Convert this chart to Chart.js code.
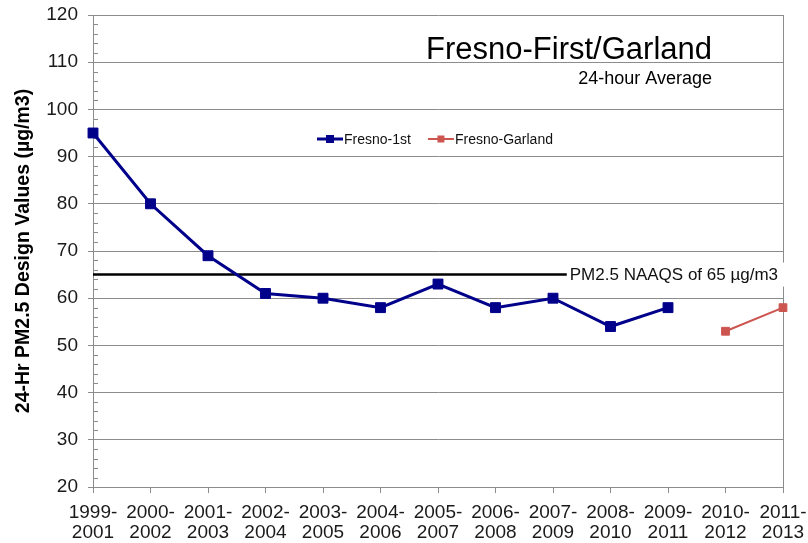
<!DOCTYPE html>
<html>
<head>
<meta charset="utf-8">
<script src="https://cdn.jsdelivr.net/npm/chart.js@4"></script>
<style>
  html, body { margin: 0; padding: 0; background: #fff; }
  #wrap { width: 808px; height: 543px; position: relative; }
</style>
</head>
<body>
<div id="wrap"><canvas id="pmChart"></canvas></div>
<script>
// design value periods (x axis)
const periodLabels = [
    ['1999-', '2001'], ['2000-', '2002'], ['2001-', '2003'], ['2002-', '2004'],
    ['2003-', '2005'], ['2004-', '2006'], ['2005-', '2007'], ['2006-', '2008'],
    ['2007-', '2009'], ['2008-', '2010'], ['2009-', '2011'], ['2010-', '2012'],
    ['2011-', '2013']
];
const fresnoFirst   = [95, 80, 69, 61, 60, 58, 63, 58, 60, 54, 58, null, null];
const fresnoGarland = [null, null, null, null, null, null, null, null, null, null, null, 53, 58];
const naaqsValue = 65;
const naaqsLabel = 'PM2.5 NAAQS of 65 µg/m3';
const chartTitle = 'Fresno-First/Garland';
const chartSubtitle = '24-hour Average';
const yAxisTitle = '24-Hr PM2.5 Design Values (µg/m3)';

const FONT = '"Liberation Sans", Arial, sans-serif';
const GRID = '#8c8c8c';
const BLUE = '#00008b';
const RED = '#cd5550';

// 罫線・凡例・タイトルなどの装飾
const decorPlugin = {
    id: 'decor',
    beforeDatasetsDraw(chart) {
        const { ctx, chartArea: a, scales: { y } } = chart;
        ctx.save();
        // minor ticks (inside)
        ctx.strokeStyle = GRID;
        ctx.lineWidth = 1;
        for (let v = 20; v <= 120; v += 2) {
            if (v % 10 === 0) continue;
            const py = Math.round(y.getPixelForValue(v)) + 0.5;
            ctx.beginPath();
            ctx.moveTo(a.left, py);
            ctx.lineTo(a.left + 5, py);
            ctx.stroke();
        }
        // right border
        ctx.beginPath();
        ctx.moveTo(Math.round(a.right) + 0.5, a.top);
        ctx.lineTo(Math.round(a.right) + 0.5, a.bottom);
        ctx.stroke();

        // NAAQS line + label
        ctx.font = '17px ' + FONT;
        const tw = ctx.measureText(naaqsLabel).width;
        const textRight = a.right - 5;
        const textLeft = textRight - tw;
        const ny = y.getPixelForValue(naaqsValue);
        ctx.fillStyle = '#fff';
        ctx.fillRect(textLeft - 2, ny - 12, tw + 10, 24);
        ctx.strokeStyle = '#000';
        ctx.lineWidth = 2.5;
        ctx.beginPath();
        ctx.moveTo(a.left, ny);
        ctx.lineTo(textLeft - 3, ny);
        ctx.stroke();
        ctx.fillStyle = '#111';
        ctx.textBaseline = 'middle';
        ctx.textAlign = 'left';
        ctx.fillText(naaqsLabel, textLeft, ny + 1);
        ctx.restore();
    },
    afterDraw(chart) {
        const { ctx, chartArea: a } = chart;
        ctx.save();
        // title
        ctx.fillStyle = '#000';
        ctx.textAlign = 'right';
        ctx.textBaseline = 'alphabetic';
        ctx.font = '31px ' + FONT;
        ctx.fillText(chartTitle, 712, 59);
        ctx.font = '18px ' + FONT;
        ctx.fillText(chartSubtitle, 712, 84);

        // legend
        ctx.font = '14px ' + FONT;
        ctx.textAlign = 'left';
        ctx.textBaseline = 'middle';
        const items = [
            { text: chart.data.datasets[0].label, color: BLUE, lw: 3, size: 8 },
            { text: chart.data.datasets[1].label, color: RED, lw: 2, size: 7 }
        ];
        const sampleW = 26, gap = 17;
        let total = 0;
        items.forEach((it, i) => {
            it.w = ctx.measureText(it.text).width;
            total += sampleW + 1 + it.w + (i < items.length - 1 ? gap : 0);
        });
        let lx = (a.left + a.right) / 2 - total / 2 - 3;
        const ly = 139;
        items.forEach(it => {
            ctx.strokeStyle = it.color;
            ctx.lineWidth = it.lw;
            ctx.beginPath();
            ctx.moveTo(lx, ly);
            ctx.lineTo(lx + sampleW, ly);
            ctx.stroke();
            ctx.fillStyle = it.color;
            ctx.fillRect(lx + sampleW / 2 - it.size / 2, ly - it.size / 2, it.size, it.size);
            ctx.fillStyle = '#111';
            ctx.fillText(it.text, lx + sampleW + 1, ly + 1);
            lx += sampleW + 1 + it.w + gap;
        });
        ctx.restore();
    }
};

new Chart(document.getElementById('pmChart'), {
    type: 'line',
    data: {
        labels: periodLabels,
        datasets: [
            {
                label: 'Fresno-1st',
                data: fresnoFirst,
                borderColor: BLUE,
                backgroundColor: BLUE,
                borderWidth: 3,
                pointStyle: 'rect',
                pointRadius: 7,
                pointBorderWidth: 1,
                tension: 0,
                spanGaps: false
            },
            {
                label: 'Fresno-Garland',
                data: fresnoGarland,
                borderColor: RED,
                backgroundColor: RED,
                borderWidth: 2,
                pointStyle: 'rect',
                pointRadius: 5.5,
                pointBorderWidth: 1,
                tension: 0,
                spanGaps: false
            }
        ]
    },
    options: {
        responsive: true,
        maintainAspectRatio: false,
        animation: false,
        devicePixelRatio: 1,
        layout: { padding: { top: 15, right: 25, left: 0, bottom: 0 } },
        plugins: {
            legend: { display: false },
            tooltip: { enabled: false }
        },
        scales: {
            x: {
                offset: false,
                grid: { drawOnChartArea: false, color: GRID, tickLength: 6 },
                border: { color: GRID },
                ticks: {
                    autoSkip: false,
                    maxRotation: 0,
                    color: '#1a1a1a',
                    padding: 10,
                    font: { family: FONT, size: 19, lineHeight: 1.05 }
                },
                afterFit(scale) {
                    scale.height = 56;
                    scale.paddingLeft = 0;
                    scale.paddingRight = 0;
                }
            },
            y: {
                min: 20,
                max: 120,
                grid: { color: GRID, tickLength: 5 },
                border: { color: GRID },
                ticks: {
                    stepSize: 10,
                    color: '#1a1a1a',
                    padding: 10,
                    font: { family: FONT, size: 19 }
                },
                title: {
                    display: true,
                    text: yAxisTitle,
                    color: '#000',
                    font: { family: FONT, size: 19.5, weight: 'bold' },
                    padding: { top: 12, bottom: 0 }
                },
                afterFit(scale) {
                    scale.width = 93;
                    scale.paddingTop = 0;
                    scale.paddingBottom = 0;
                }
            }
        }
    },
    plugins: [decorPlugin]
});
</script>
</body>
</html>
